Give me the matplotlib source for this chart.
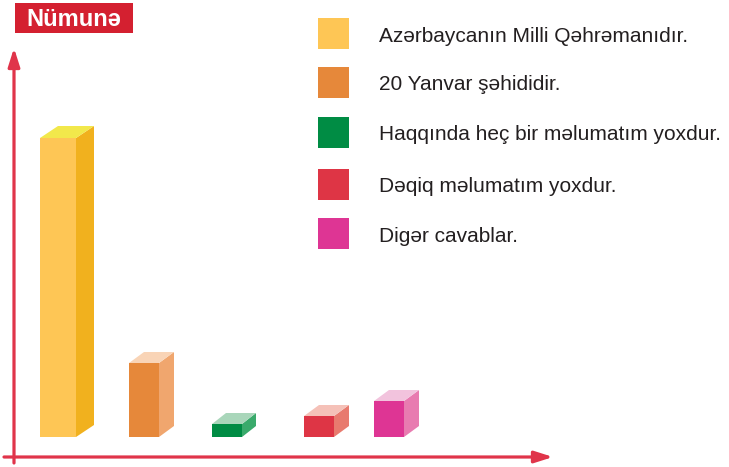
import matplotlib.pyplot as plt
from matplotlib.patches import Polygon, Rectangle

plt.rcParams['font.family'] = ['Liberation Sans', 'DejaVu Sans']

labels = ['Azərbaycanın Milli Qəhrəmanıdır.', '20 Yanvar şəhididir.',
          'Haqqında heç bir məlumatım yoxdur.', 'Dəqiq məlumatım yoxdur.',
          'Digər cavablar.']
values = [299, 74, 13, 21, 36]
front = ['#FEC655', '#E6883A', '#008C44', '#DE3545', '#DE3594']
side = ['#F1B11E', '#F0A66E', '#39AA6B', '#E87A6E', '#E87BB0']
top = ['#F2E84B', '#F9D4B6', '#A9D6BA', '#F5C1B8', '#F2C3DD']

# layout (pixel-like units, y up, baseline at 0)
lefts = [40, 129, 212, 304, 374]
widths = [36, 30, 30, 30, 30]
dxs = [18, 15, 14, 15, 15]
dys = [12, 11, 11, 11, 11]

fig = plt.figure(figsize=(7.29, 4.67), dpi=100)
ax = fig.add_axes([0, 0, 1, 1])
ax.set_xlim(0, 729)
ax.set_ylim(-30, 437)
ax.axis('off')

ax.bar(lefts, values, width=widths, align='edge', color=front, zorder=3)
for x, w, h, dx, dy, cs, ct in zip(lefts, widths, values, dxs, dys, side, top):
    ax.add_patch(Polygon([(x + w, 0), (x + w + dx, dy), (x + w + dx, h + dy), (x + w, h)],
                         closed=True, color=cs, lw=0, zorder=3))
    ax.add_patch(Polygon([(x, h), (x + w, h), (x + w + dx, h + dy), (x + dx, h + dy)],
                         closed=True, color=ct, lw=0, zorder=3))

red = '#E0344A'
ax.annotate('', xy=(553, -20), xytext=(4, -20),
            arrowprops=dict(arrowstyle='-|>,head_length=1.1,head_width=0.35',
                            color=red, lw=2.3, shrinkA=0, shrinkB=0))
ax.annotate('', xy=(14, 389), xytext=(14, -26),
            arrowprops=dict(arrowstyle='-|>,head_length=1.1,head_width=0.35',
                            color=red, lw=2.3, shrinkA=0, shrinkB=0))

# title tag
ax.add_patch(Rectangle((15, 404), 118, 30, color='#D42030', lw=0))
ax.text(74, 418, 'Nümunə', color='white', fontsize=17, fontweight='bold',
        ha='center', va='center')

# legend
rows = [404, 355, 305, 253, 204]
for y, c, lab in zip(rows, front, labels):
    ax.add_patch(Rectangle((318, y - 15.5), 31, 31, color=c, lw=0))
    ax.text(379, y - 3, lab, fontsize=15, color='#231F20', va='center', ha='left')

fig.savefig('out.png', dpi=100)
